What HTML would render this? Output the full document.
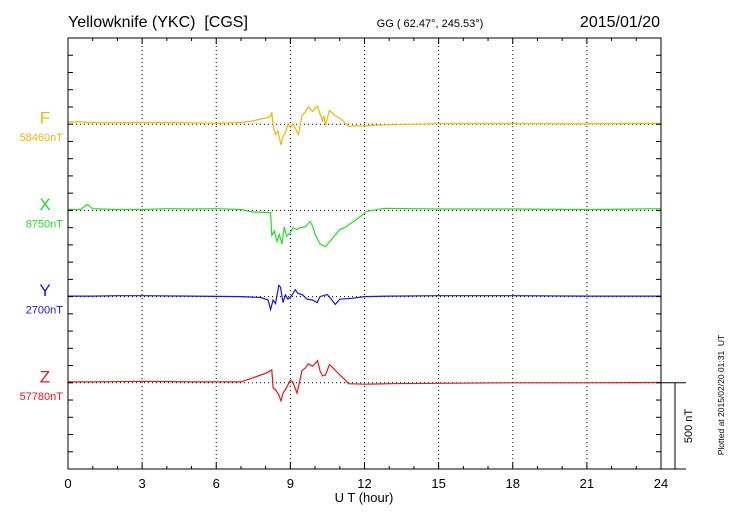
<!DOCTYPE html>
<html><head><meta charset="utf-8"><style>
html,body{margin:0;padding:0;background:#fff;}
svg{display:block;font-family:"Liberation Sans",sans-serif;}
</style></head><body>
<svg id="c" width="730" height="520" viewBox="0 0 730 520">
<text x="68" y="27" font-size="16">Yellowknife (YKC)&#160; [CGS]</text>
<text x="430" y="27" font-size="11" text-anchor="middle">GG ( 62.47°, 245.53°)</text>
<text x="660" y="27" font-size="16" text-anchor="end">2015/01/20</text>
<g id="grid"></g>
<g id="series"></g>
<g id="axes"></g>
<text x="364" y="502" font-size="13" text-anchor="middle">U T (hour)</text>
<text transform="translate(692,426) rotate(-90)" font-size="11" text-anchor="middle">500 nT</text>
<text transform="translate(724,395) rotate(-90)" font-size="8.5" text-anchor="middle">Plotted at 2015/02/20 01:31&#160; UT</text>
</svg>
<script>
const seriesNames=["F","X","Y","Z"];
const seriesColors=["#f7b500","#22e022","#1414f0","#f01414"];
const baseLabels=["58460nT","8750nT","2700nT","57780nT"];
const xTicks=[0,3,6,9,12,15,18,21,24];
const fT=[0,0.5,0.8,1.5,3,5,6,7,7.5,7.8,8.0,8.2,8.25,8.3,8.4,8.5,8.62,8.7,8.8,8.9,9.0,9.1,9.33,9.47,9.6,9.73,9.9,10.1,10.2,10.3,10.35,10.42,10.58,10.7,10.8,11.0,11.2,11.35,11.6,12,12.5,13,14,15,18,21,24];
const fV=[12,15,10,8,10,8,5,10,20,30,35,45,70,-10,-60,-40,-120,-70,-50,0,-20,5,-60,50,70,100,75,105,60,20,50,-5,80,65,50,35,10,-12,-10,-10,-5,-3,0,3,3,2,5];
const xT=[0,0.5,0.78,1.0,2,3,4,5,6,7,7.5,8.2,8.25,8.35,8.46,8.55,8.66,8.75,8.85,9.0,9.1,9.27,9.4,9.6,9.8,9.9,10.0,10.2,10.42,10.6,10.8,11.0,11.2,11.7,12.1,12.8,14,15,18,21,24];
const xV=[5,5,35,10,5,5,10,8,10,5,-10,-12,-145,-120,-180,-140,-195,-95,-150,-130,-100,-110,-100,-95,-65,-90,-140,-195,-210,-180,-145,-110,-100,-50,-5,12,10,8,8,5,10];
const yT=[0,1,2,3,5,7,7.8,8.1,8.2,8.3,8.4,8.53,8.6,8.7,8.8,8.9,9.05,9.2,9.3,9.5,9.67,9.9,10.08,10.2,10.49,10.6,10.82,11.0,11.5,12,13,15,18,21,24];
const yV=[3,3,5,5,3,0,-5,-20,-75,-20,-40,65,55,-35,10,-15,5,40,20,10,-15,-20,-35,0,12,-5,-45,-15,-10,0,3,5,5,3,3];
const zT=[0,1,3,5,7,7.8,8.0,8.25,8.3,8.4,8.53,8.62,8.7,8.8,9.0,9.1,9.27,9.47,9.6,9.73,9.9,10.1,10.2,10.3,10.42,10.58,10.7,11.0,11.2,11.35,12,13,15,18,21,24];
const zV=[5,5,8,5,5,45,55,75,-30,-40,-70,-105,-60,-40,15,5,-60,70,85,110,95,128,70,40,45,105,90,45,20,-5,-8,-5,-3,0,0,2];
const times=[fT,xT,yT,zT];
const values=[fV,xV,yV,zV];

const NS="http://www.w3.org/2000/svg";
const X0=68,X1=661,Y0=38,Y1=469,PXNT=86.2/500;
const baseY=[124.2,210.4,296.6,382.8];
const xs=h=>X0+(X1-X0)*h/24;
function mk(tag,attrs,parent){const e=document.createElementNS(NS,tag);for(const k in attrs)e.setAttribute(k,attrs[k]);parent.appendChild(e);return e;}
const grid=document.getElementById('grid'),axes=document.getElementById('axes'),ser=document.getElementById('series');
xTicks.slice(1,-1).forEach(h=>{
 const l=mk('line',{x1:xs(h),x2:xs(h),y1:Y0,y2:Y1,stroke:'#000','stroke-width':1,'stroke-dasharray':'1,3'},grid);
 
 
});
baseY.forEach((b,i)=>{
 const l=mk('line',{x1:X0,x2:X1,y1:b,y2:b,stroke:'#000','stroke-width':1,'stroke-dasharray':'1,3'},grid);
 
 
});
seriesNames.forEach((n,i)=>{
 const pts=times[i].map((t,j)=>xs(t).toFixed(1)+','+(baseY[i]-values[i][j]*PXNT).toFixed(1)).join(' ');
 const p=mk('polyline',{points:pts,fill:'none',stroke:seriesColors[i],'stroke-width':1.2},ser);
 
 
 const t=mk('text',{x:45,y:baseY[i]-0.5,'font-size':17,fill:seriesColors[i],'text-anchor':'middle'},ser);
 t.textContent=n;
 
 
 const s=mk('text',{x:63,y:baseY[i]+17,'font-size':11,fill:seriesColors[i],'text-anchor':'end'},ser);
 s.textContent=baseLabels[i];
 
 
});
const fr=mk('rect',{x:X0,y:Y0,width:X1-X0,height:Y1-Y0,fill:'none',stroke:'#000','stroke-width':1},axes);


for(let h=0;h<=24;h++){
 const major=h%3===0,len=major?6:3;
 mk('line',{x1:xs(h),x2:xs(h),y1:Y1,y2:Y1-len,stroke:'#000'},axes);
 mk('line',{x1:xs(h),x2:xs(h),y1:Y0,y2:Y0+len,stroke:'#000'},axes);
}
xTicks.forEach(h=>{
 const t=mk('text',{x:xs(h),y:488,'font-size':13,'text-anchor':'middle'},axes);
 t.textContent=h;
 
 
});
for(let k=1;k<25;k++){const y=Y0+k*(Y1-Y0)/25;
 mk('line',{x1:X0,x2:X0+5,y1:y,y2:y,stroke:'#000'},axes);
 mk('line',{x1:X1,x2:X1-5,y1:y,y2:y,stroke:'#000'},axes);}
const sb=mk('g',{},axes);


mk('line',{x1:X1,x2:686,y1:baseY[3],y2:baseY[3],stroke:'#000'},sb);
mk('line',{x1:X1,x2:686,y1:Y1,y2:Y1,stroke:'#000'},sb);
mk('line',{x1:675,x2:675,y1:baseY[3],y2:Y1,stroke:'#000'},sb);
</script>
</body></html>
